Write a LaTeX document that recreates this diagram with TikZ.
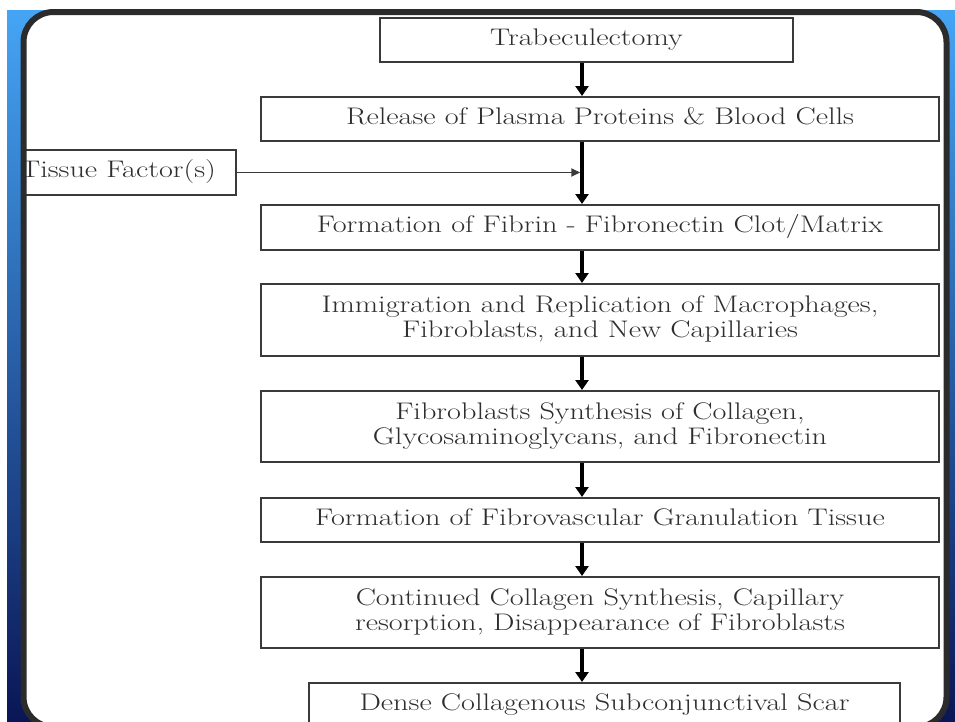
\documentclass[tikz,border=0pt]{standalone}
\usepackage{fontspec}
\usepackage{graphicx}
\usetikzlibrary{arrows.meta}
\definecolor{boxline}{HTML}{3A3A3A}
\definecolor{txt}{HTML}{2E2E2E}
\definecolor{panelline}{HTML}{2B2B2B}
\definecolor{bgtop}{HTML}{45A5F5}
\definecolor{bgmid}{HTML}{2A6CC8}
\definecolor{bgbot}{HTML}{0A1656}
\newcommand\stretchtext[1]{\scalebox{1.26}[1]{\begin{tabular}{@{}c@{}}#1\end{tabular}}}
\tikzset{
  stepbox/.style={draw=boxline, line width=2pt, fill=white, inner sep=0pt,
    minimum height=44pt, text=txt, font=\fontsize{24}{25}\selectfont, align=center},
  flow/.style={draw=black, line width=3.5pt, -{Triangle[length=10pt,width=13pt]}},
  thinflow/.style={draw=boxline, line width=1.8pt, -{Triangle[length=9pt,width=8pt]}},
}
\begin{document}
\begin{tikzpicture}[x=1pt,y=-1pt]
\useasboundingbox (0,0) rectangle (955,721);
% background
\shade[top color=bgtop, middle color=bgmid, bottom color=bgbot] (7,10) rectangle (955,721);
\fill[white, rounded corners=30pt] (23.5,12) rectangle (946.5,727);
% axis of the main arrows
\coordinate (ax) at (582,0);
% boxes
\node[stepbox, minimum width=413pt] (b1) at (586.5,40) {\stretchtext{Trabeculectomy}};
\node[stepbox, minimum width=678pt] (b2) at (600,119) {\stretchtext{Release of Plasma Proteins \& Blood Cells}};
\node[stepbox, minimum width=212pt, minimum height=45pt] (tf) at (130,172.5) {\makebox[0pt]{\stretchtext{Tissue Factor(s)}\hspace{24pt}}};
\node[stepbox, minimum width=678pt, minimum height=45pt] (b3) at (600,227.5) {\stretchtext{Formation of Fibrin - Fibronectin Clot/Matrix}};
\node[stepbox, minimum width=678pt, minimum height=72pt] (b4) at (600,320) {\stretchtext{Immigration and Replication of Macrophages,\\Fibroblasts, and New Capillaries}};
\node[stepbox, minimum width=678pt, minimum height=71pt] (b5) at (600,426.5) {\stretchtext{Fibroblasts Synthesis of Collagen,\\Glycosaminoglycans, and Fibronectin}};
\node[stepbox, minimum width=678pt] (b6) at (600,520) {\stretchtext{Formation of Fibrovascular Granulation Tissue}};
\node[stepbox, minimum width=678pt, minimum height=71pt] (b7) at (600,612.5) {\stretchtext{Continued Collagen Synthesis, Capillary\\resorption, Disappearance of Fibroblasts}};
\node[stepbox, minimum width=591pt] (b8) at (604.5,705) {\stretchtext{Dense Collagenous Subconjunctival Scar}};
% connectors
\draw[flow] (b1.south -| ax) -- (b2.north -| ax);
\draw[flow] (b2.south -| ax) -- (b3.north -| ax);
\draw[thinflow, shorten >=1.75pt] (tf.east) -- (tf.east -| ax);
\draw[flow] (b3.south -| ax) -- (b4.north -| ax);
\draw[flow] (b4.south -| ax) -- (b5.north -| ax);
\draw[flow] (b5.south -| ax) -- (b6.north -| ax);
\draw[flow] (b6.south -| ax) -- (b7.north -| ax);
\draw[flow] (b7.south -| ax) -- (b8.north -| ax);
% panel frame on top
\draw[panelline, line width=6pt, rounded corners=30pt] (23.5,12) rectangle (946.5,727);
\end{tikzpicture}
\end{document}
